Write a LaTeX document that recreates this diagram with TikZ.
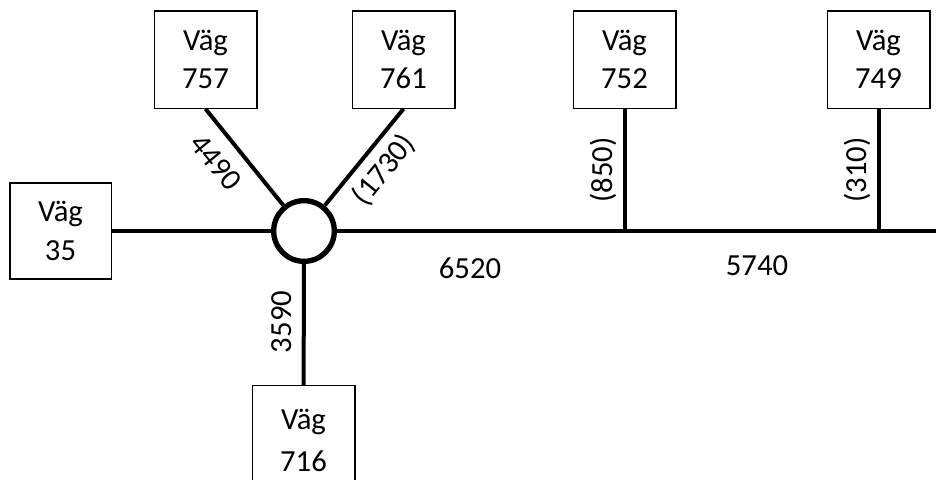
\documentclass[tikz,border=0pt]{standalone}
\usepackage{fontspec}
\setmainfont{Carlito}
\usetikzlibrary{positioning}

\tikzset{
  vag/.style={draw, line width=1pt, minimum width=77pt, minimum height=73pt,
    align=center, inner sep=0pt, font=\fontsize{23}{29}\selectfont},
  road/.style={line width=3pt},
  len/.style={inner sep=0pt, font=\fontsize{23}{28}\selectfont},
}

\begin{document}
\begin{tikzpicture}[x=0.75pt,y=-0.75pt]
  \useasboundingbox (0,0) rectangle (936,479);
  % roads and hub
  \node[draw, circle, line width=4pt, minimum size=45.5pt, inner sep=0pt] (hub) at (304,231) {};
  \node[vag] (v757) at (205.5,59.5) {Väg\\757};
  \node[vag] (v761) at (403.5,59.5) {Väg\\761};
  \node[vag] (v752) at (624.5,59.5) {Väg\\752};
  \node[vag] (v749) at (878.5,59.5) {Väg\\749};
  \node[vag, minimum width=76pt, minimum height=72pt] (v35) at (60.5,231) {Väg\\35};
  \node[vag, anchor=north, minimum height=82pt, font=\fontsize{23}{32}\selectfont] (v716) at (303.5,385) {Väg\\716};
  \coordinate (j752) at (v752 |- hub);
  \coordinate (j749) at (v749 |- hub);
  \coordinate (east) at (936,231);

  \draw[road] (v35) -- (hub);
  \draw[road] (hub) -- (east);
  \draw[road] (v757.south) -- (hub);
  \draw[road] (v761.south) -- (hub);
  \draw[road] (hub) -- (v716);
  \draw[road] (v752) -- (j752);
  \draw[road] (v749) -- (j749);

  % lengths
  \node[len, rotate=-51] (l4490) at (216,162) {4490};
  \node[len, rotate=51] (l1730) at (384,170) {(1730)};
  \node[len, rotate=90] (l3590) at (282,322) {3590};
  \node[len, rotate=90] (l850) at (603,170) {(850)};
  \node[len, rotate=90] (l310) at (857,170) {(310)};
  \node[len] (l6520) at (470,268) {6520};
  \node[len] (l5740) at (757,266) {5740};
\end{tikzpicture}
\end{document}
